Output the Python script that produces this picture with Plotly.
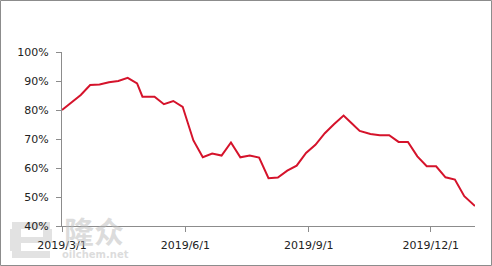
import plotly.graph_objects as go

dates = ["2019-03-01", "2019-03-08", "2019-03-15", "2019-03-22", "2019-03-29",
         "2019-04-05", "2019-04-12", "2019-04-19", "2019-04-26", "2019-04-30",
         "2019-05-09", "2019-05-16", "2019-05-23", "2019-05-30", "2019-06-07",
         "2019-06-14", "2019-06-21", "2019-06-28", "2019-07-05", "2019-07-12",
         "2019-07-19", "2019-07-26", "2019-08-02", "2019-08-09", "2019-08-16",
         "2019-08-23", "2019-08-30", "2019-09-06", "2019-09-13", "2019-09-20",
         "2019-09-27", "2019-10-03", "2019-10-09", "2019-10-17", "2019-10-24",
         "2019-10-31", "2019-11-07", "2019-11-14", "2019-11-21", "2019-11-28",
         "2019-12-05", "2019-12-12", "2019-12-19", "2019-12-26", "2020-01-03"]
values = [80.0, 82.6, 85.2, 88.6, 88.8, 89.6, 90.0, 91.1, 89.2, 84.6,
          84.6, 82.0, 83.1, 81.1, 69.5, 63.7, 65.0, 64.3, 68.8, 63.7,
          64.3, 63.6, 56.5, 56.7, 59.1, 60.8, 65.2, 68.0, 72.0, 75.2,
          78.1, 75.4, 72.8, 71.7, 71.3, 71.3, 69.0, 69.0, 64.0, 60.6,
          60.6, 56.8, 56.0, 50.3, 46.9]
x_tickvals = ["2019-03-01", "2019-06-01", "2019-09-01", "2019-12-01"]
x_ticktext = ["2019/3/1", "2019/6/1", "2019/9/1", "2019/12/1"]
y_tickvals = [40, 50, 60, 70, 80, 90, 100]
y_ticktext = ["40%", "50%", "60%", "70%", "80%", "90%", "100%"]

W, H = 492, 266
L, R, T, B = 62, 17, 52, 40
pw, ph = W - L - R, H - T - B


def px(x):
    return (x - L) / pw


def py(y):
    return (H - y - B) / ph


fig = go.Figure()
fig.add_trace(go.Scatter(x=dates, y=values, mode="lines",
                         line=dict(color="#D5132B", width=2), hoverinfo="skip"))

axis_font = dict(family="DejaVu Sans", size=11, color="#222222")
fig.update_layout(
    width=W, height=H, margin=dict(l=L, r=R, t=T, b=B),
    paper_bgcolor="white", plot_bgcolor="rgba(0,0,0,0)", showlegend=False,
    xaxis=dict(type="date", range=["2019-03-01", "2020-01-03"],
               tickvals=x_tickvals, ticktext=x_ticktext,
               showgrid=False, zeroline=False, showline=True,
               linecolor="#8c8c8c", linewidth=1, ticks="outside",
               ticklen=5, tickcolor="#8c8c8c", tickfont=axis_font,
               ticklabelstandoff=4),
    yaxis=dict(range=[40, 100], tickvals=y_tickvals, ticktext=y_ticktext,
               showgrid=False, zeroline=False, showline=True,
               linecolor="#8c8c8c", linewidth=1, ticks="outside",
               ticklen=5, tickcolor="#8c8c8c", tickfont=axis_font,
               ticklabelstandoff=5),
)

# outer border of the picture
fig.add_shape(type="rect", xref="paper", yref="paper",
              x0=px(0.5), x1=px(W - 0.5), y0=py(H - 0.5), y1=py(0.5),
              line=dict(color="#8c8c8c", width=1), fillcolor="rgba(0,0,0,0)")

# watermark logo (stylised "e") drawn beneath the axis labels
wm_fill = "#e2e2e2"
for x0, x1, y0, y1 in [(12, 50, 222, 229), (10, 21, 229, 251), (43, 52, 229, 237),
                       (21, 52, 237, 243), (12, 50, 251, 258)]:
    fig.add_shape(type="rect", xref="paper", yref="paper", layer="below",
                  x0=px(x0), x1=px(x1), y0=py(y1), y1=py(y0),
                  line=dict(width=0), fillcolor=wm_fill)

wm = "rgba(185,185,185,0.5)"
fig.add_annotation(xref="paper", yref="paper", x=px(94), y=py(230),
                   xanchor="center", yanchor="middle",
                   text="<b>隆众</b>", showarrow=False,
                   font=dict(family="Noto Sans CJK SC", size=30, color=wm))
fig.add_annotation(xref="paper", yref="paper", x=px(95), y=py(254),
                   xanchor="center", yanchor="middle",
                   text="<b>oilchem.net</b>", showarrow=False,
                   font=dict(family="DejaVu Sans", size=10, color=wm))

fig.write_html("out.html")
